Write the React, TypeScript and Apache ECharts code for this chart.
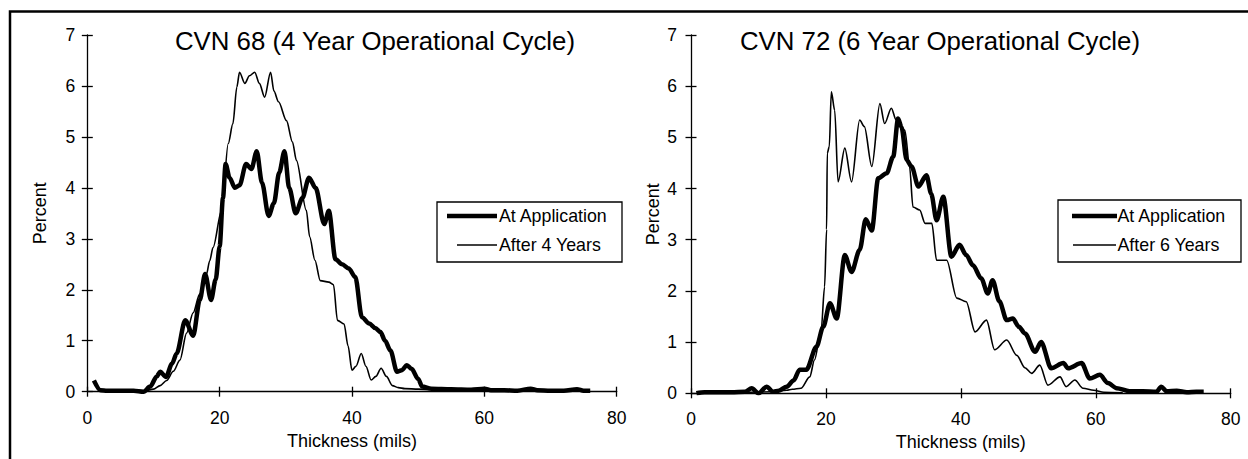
import React, { useEffect, useRef } from "react";
import * as echarts from "echarts";

const FONT = "'Liberation Sans', Arial, sans-serif";

const xTicks = [0, 20, 40, 60, 80];
const yTicks = [0, 1, 2, 3, 4, 5, 6, 7];
const titles = ["CVN 68 (4 Year Operational Cycle)", "CVN 72 (6 Year Operational Cycle)"];
const xName = "Thickness (mils)";
const yName = "Percent";
const leftNames = ["At Application", "After 4 Years"];
const rightNames = ["At Application", "After 6 Years"];

// [thickness (mils), percent]
const leftApplication: [number, number][] = [
  [1, 0.22], [2, 0.03], [3, 0.02], [5, 0.02], [7, 0.02], [8.5, 0], [9.5, 0.1], [10.5, 0.3], [11, 0.39],
  [11.9, 0.29], [12.8, 0.55], [13.5, 0.75], [14.8, 1.4], [16, 1.1], [17, 1.8], [17.8, 2.31], [18.7, 1.8],
  [19.4, 2.2], [20, 2.85], [20.5, 3.8], [20.9, 4.47], [21.5, 4.2], [22.3, 4.0], [23, 4.05], [24, 4.47],
  [24.8, 4.37], [25.6, 4.72], [26.4, 4.1], [27.4, 3.45], [28.2, 3.7], [29, 4.3], [29.8, 4.72], [30.5, 4.0],
  [31.5, 3.5], [32.5, 3.8], [33.5, 4.2], [34.5, 4.0], [35.8, 3.29], [36.5, 3.55], [37.5, 2.6], [38.5, 2.5],
  [39.5, 2.42], [40.5, 2.25], [41.5, 1.46], [42.6, 1.34], [43.5, 1.25], [44.3, 1.17], [45, 1.0], [45.8, 0.81],
  [46.8, 0.39], [47.5, 0.42], [48.3, 0.52], [49, 0.45], [50, 0.25], [50.6, 0.1], [52, 0.06], [55, 0.05],
  [58, 0.04], [60, 0.06], [61, 0.03], [63, 0.03], [65, 0.02], [67, 0.06], [68, 0.03], [70, 0.02], [72, 0.02],
  [74, 0.05], [75, 0.02], [76, 0.02],
];

const leftAfter4: [number, number][] = [
  [8.5, 0], [10, 0.05], [11, 0.12], [12, 0.22], [13, 0.4], [14, 0.62], [15, 1.15], [16, 1.55], [17, 1.92],
  [18, 2.3], [18.5, 2.57], [19, 2.83], [20.3, 3.56], [21.3, 4.87], [22, 5.26], [22.6, 5.98], [23, 6.27],
  [23.8, 6.05], [24.5, 6.2], [25.3, 6.27], [26, 6.05], [26.8, 5.78], [27.7, 6.27], [28.2, 5.9], [28.9, 5.69],
  [30.1, 5.32], [31, 4.9], [31.6, 4.54], [33.1, 3.56], [33.6, 3.04], [34.4, 2.58], [35.2, 2.18], [36.5, 2.15],
  [37.2, 2.1], [37.8, 1.4], [38.8, 1.33], [39.4, 0.9], [40, 0.42], [40.6, 0.5], [41.4, 0.75], [42.1, 0.5],
  [42.9, 0.23], [43.6, 0.3], [44.4, 0.46], [45.2, 0.3], [46.1, 0.12], [47, 0.08], [48, 0.06], [50, 0.05],
  [52, 0.04], [55, 0.03],
];

const rightApplication: [number, number][] = [
  [0.8, 0], [2, 0.02], [4, 0.02], [6, 0.02], [8, 0.03], [9, 0.1], [10, 0], [11.2, 0.13], [12.2, 0.03],
  [13, 0.05], [14.2, 0.13], [15.2, 0.25], [16.1, 0.46], [17.1, 0.46], [18.6, 0.91], [19.6, 1.3], [20.6, 1.76],
  [21.6, 1.46], [22.8, 2.7], [23.8, 2.37], [25, 2.8], [25.9, 3.4], [26.8, 3.18], [27.75, 4.2], [29, 4.3],
  [29.97, 4.62], [30.7, 5.37], [31.2, 5.2], [31.96, 4.56], [32.7, 4.43], [33.7, 4.04], [34.9, 4.26],
  [35.6, 3.9], [36.4, 3.38], [37.4, 3.84], [38.6, 2.67], [39.8, 2.9], [40.8, 2.7], [41.8, 2.5], [43, 2.25],
  [44, 1.95], [44.7, 2.21], [45.7, 1.8], [46.8, 1.43], [47.7, 1.46], [48.6, 1.3], [49.5, 1.17], [51, 0.81],
  [51.9, 1.0], [53.4, 0.49], [55.2, 0.59], [55.9, 0.49], [57.9, 0.59], [59.1, 0.29], [60.6, 0.36], [61.8, 0.2],
  [63.1, 0.1], [65, 0.04], [67, 0.04], [69, 0.03], [69.7, 0.13], [70.5, 0.04], [72, 0.05], [73.5, 0.02],
  [74.9, 0.03], [76, 0.03],
];

const rightAfter6: [number, number][] = [
  [1, 0], [4, 0.01], [8, 0.02], [12, 0.03], [14.2, 0.06], [15, 0.08], [16.3, 0.1], [17.6, 0.32], [18.3, 0.65],
  [19.3, 1.24], [19.8, 2.08], [20.1, 3.2], [20.2, 4.69], [20.5, 4.82], [20.8, 5.89], [21.3, 5.53], [21.8, 4.13],
  [22.8, 4.79], [23.8, 4.13], [25, 5.34], [25.7, 5.21], [26.8, 4.43], [28, 5.66], [28.7, 5.27], [29.7, 5.57],
  [30.4, 5.34], [31.7, 5.14], [32.4, 4.43], [32.9, 3.64], [33.9, 3.58], [34.7, 3.32], [35.7, 3.32], [36.4, 2.6],
  [37.9, 2.6], [39.4, 1.86], [40.8, 1.79], [42.1, 1.2], [43.8, 1.43], [45, 0.85], [46.8, 1.04], [48.3, 0.74],
  [49.5, 0.5], [50.5, 0.39], [51.7, 0.55], [52.9, 0.16], [54.7, 0.32], [55.6, 0.13], [56.9, 0.26], [58.1, 0.1],
  [59.7, 0.06], [61.2, 0.02], [64, 0.01],
];

const BLACK = "#000";
const THICK = 4.5;
const THIN = 1.6;

function mainX(gridIndex: number, nameGap: number) {
  return {
    type: "value",
    gridIndex,
    min: xTicks[0],
    max: xTicks[xTicks.length - 1],
    interval: xTicks[1] - xTicks[0],
    position: "bottom",
    name: xName,
    nameLocation: "middle",
    nameGap,
    nameTextStyle: { fontFamily: FONT, fontSize: 18, color: BLACK },
    axisLine: { show: true, onZero: false, lineStyle: { color: BLACK, width: 1.3 } },
    axisTick: { show: true, inside: false, length: 5, lineStyle: { color: BLACK, width: 1.3 } },
    axisLabel: { margin: 17, fontFamily: FONT, fontSize: 17.5, color: BLACK },
    splitLine: { show: false },
  };
}

function overlayX(gridIndex: number) {
  return {
    type: "value",
    gridIndex,
    min: xTicks[0],
    max: xTicks[xTicks.length - 1],
    interval: xTicks[1] - xTicks[0],
    position: "bottom",
    axisLine: { show: false },
    axisTick: { show: true, inside: true, length: 5, lineStyle: { color: BLACK, width: 1.3 } },
    axisLabel: { show: false },
    splitLine: { show: false },
  };
}

function mainY(gridIndex: number, nameGap: number, labelMargin: number) {
  return {
    type: "value",
    gridIndex,
    min: yTicks[0],
    max: yTicks[yTicks.length - 1],
    interval: yTicks[1] - yTicks[0],
    position: "left",
    name: yName,
    nameLocation: "middle",
    nameRotate: 90,
    nameGap,
    nameTextStyle: { fontFamily: FONT, fontSize: 18, color: BLACK },
    axisLine: { show: true, onZero: false, lineStyle: { color: BLACK, width: 1.3 } },
    axisTick: { show: true, inside: false, length: 5.5, lineStyle: { color: BLACK, width: 1.3 } },
    axisLabel: { margin: labelMargin, fontFamily: FONT, fontSize: 17.5, color: BLACK },
    splitLine: { show: false },
  };
}

function overlayY(gridIndex: number) {
  return {
    type: "value",
    gridIndex,
    min: yTicks[0],
    max: yTicks[yTicks.length - 1],
    interval: yTicks[1] - yTicks[0],
    position: "left",
    axisLine: { show: false },
    axisTick: { show: true, inside: true, length: 5.5, lineStyle: { color: BLACK, width: 1.3 } },
    axisLabel: { show: false },
    splitLine: { show: false },
  };
}

function lineSeries(name: string, data: [number, number][], axis: number, width: number, z: number) {
  return {
    type: "line",
    name,
    xAxisIndex: axis,
    yAxisIndex: axis,
    data,
    symbol: "none",
    showSymbol: false,
    smooth: 0.3,
    smoothMonotone: "x",
    lineStyle: { color: BLACK, width },
    itemStyle: { color: BLACK },
    z,
  };
}

// Legend drawn as a framed box with line samples and texts
function legendGraphic(
  names: string[],
  box: { x: number; y: number; w: number; h: number },
  thickLine: [number, number],
  thinLine: [number, number],
  textX: number,
  rows: [number, number]
) {
  return [
    {
      type: "rect",
      silent: true,
      z: 10,
      shape: { x: box.x, y: box.y, width: box.w, height: box.h },
      style: { fill: "#fff", stroke: BLACK, lineWidth: 1.3 },
    },
    {
      type: "line",
      silent: true,
      z: 11,
      shape: { x1: thickLine[0], y1: rows[0], x2: thickLine[1], y2: rows[0] },
      style: { stroke: BLACK, lineWidth: THICK },
    },
    {
      type: "line",
      silent: true,
      z: 11,
      shape: { x1: thinLine[0], y1: rows[1], x2: thinLine[1], y2: rows[1] },
      style: { stroke: BLACK, lineWidth: THIN },
    },
    {
      type: "text",
      silent: true,
      z: 11,
      x: textX,
      y: rows[0],
      style: { text: names[0], fontFamily: FONT, fontSize: 17.8, fill: BLACK, align: "left", verticalAlign: "middle" },
    },
    {
      type: "text",
      silent: true,
      z: 11,
      x: textX,
      y: rows[1],
      style: { text: names[1], fontFamily: FONT, fontSize: 17.8, fill: BLACK, align: "left", verticalAlign: "middle" },
    },
  ];
}

export default function App() {
  const ref = useRef<HTMLDivElement>(null);

  useEffect(() => {
    if (!ref.current) return;
    const chart = echarts.init(ref.current, undefined, { renderer: "svg" });
    const option: any = {
      animation: false,
      backgroundColor: "#fff",
      grid: [
        { left: 87.3, top: 35, width: 529.4, height: 356.7, containLabel: false },
        { left: 691, top: 35, width: 539.7, height: 358.3, containLabel: false },
      ],
      xAxis: [mainX(0, 38.5), mainX(1, 38.5), overlayX(0), overlayX(1)],
      yAxis: [mainY(0, 38, 12), mainY(1, 29, 14), overlayY(0), overlayY(1)],
      series: [
        lineSeries(leftNames[0], leftApplication, 0, THICK, 3),
        lineSeries(leftNames[1], leftAfter4, 0, THIN, 4),
        lineSeries(rightNames[0], rightApplication, 1, THICK, 3),
        lineSeries(rightNames[1], rightAfter6, 1, THIN, 4),
      ],
      graphic: [
        {
          type: "rect",
          silent: true,
          z: -1,
          shape: { x: 10, y: 11.5, width: 1300, height: 500 },
          style: { fill: "none", stroke: BLACK, lineWidth: 2.5 },
        },
        {
          type: "text",
          x: 375,
          y: 41,
          style: { text: titles[0], fontFamily: FONT, fontSize: 25.8, fill: BLACK, align: "center", verticalAlign: "middle" },
        },
        {
          type: "text",
          x: 940,
          y: 41,
          style: { text: titles[1], fontFamily: FONT, fontSize: 25.8, fill: BLACK, align: "center", verticalAlign: "middle" },
        },
        ...legendGraphic(leftNames, { x: 437, y: 202, w: 185, h: 60 }, [447, 497], [457, 497], 499, [216, 245]),
        ...legendGraphic(rightNames, { x: 1058, y: 200, w: 183, h: 62 }, [1072, 1117], [1073, 1116], 1117.5, [216, 245]),
      ],
    };
    chart.setOption(option);
    return () => chart.dispose();
  }, []);

  return (
    <div
      ref={ref}
      style={{ position: "absolute", left: 0, top: 0, width: 1248, height: 459, background: "#fff" }}
    />
  );
}
